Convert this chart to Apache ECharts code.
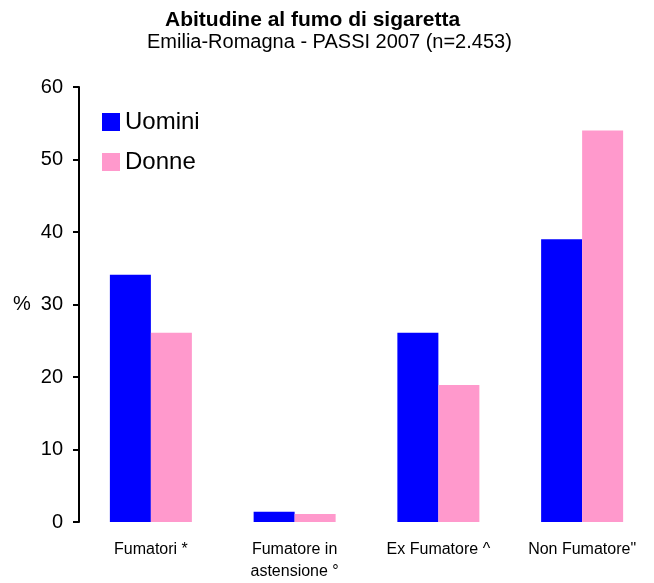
<!DOCTYPE html>
<html>
<head>
<meta charset="utf-8">
<script src="https://cdn.jsdelivr.net/npm/echarts@6/dist/echarts.min.js"></script>
<style>html,body{margin:0;padding:0;background:#fff}#c{width:654px;height:583px}</style>
</head>
<body>
<div id="c"></div>
<script>
var categories = ['Fumatori *', 'Fumatore in\nastensione °', 'Ex Fumatore ^', 'Non Fumatore"'];
var uomini = [34.1, 1.4, 26.1, 39.0];
var donne = [26.1, 1.1, 18.9, 54.0];
var yTicks = [0, 10, 20, 30, 40, 50, 60];

var font = 'Liberation Sans, Arial, sans-serif';
var chart = echarts.init(document.getElementById('c'));
chart.setOption({
  animation: false,
  backgroundColor: '#fff',
  title: [
    {text: 'Abitudine al fumo di sigaretta', left: 165, top: 10, padding: 0,
     textStyle: {fontFamily: font, fontSize: 21, fontWeight: 'bold', color: '#000'}},
    {text: 'Emilia-Romagna - PASSI 2007 (n=2.453)', left: 147, top: 32, padding: 0,
     textStyle: {fontFamily: font, fontSize: 20, fontWeight: 'normal', color: '#000'}}
  ],
  legend: {
    orient: 'vertical', left: 102, top: 110, padding: 0,
    itemWidth: 18, itemHeight: 18, itemGap: 16,
    icon: 'rect',
    textStyle: {fontFamily: font, fontSize: 24, color: '#000'},
    data: ['Uomini', 'Donne']
  },
  grid: {left: 79, top: 87, width: 577, bottom: 60, containLabel: false},
  graphic: [{type: 'text', left: 13, top: 294, style: {text: '%', font: '20px ' + font, fill: '#000'}}],
  xAxis: {
    type: 'category', data: categories,
    axisLine: {show: false}, axisTick: {show: false},
    axisLabel: {fontFamily: font, fontSize: 16, color: '#000', margin: 17, lineHeight: 22, interval: 0}
  },
  yAxis: {
    type: 'value', min: 0, max: 60, interval: 10,
    splitLine: {show: false},
    axisLine: {show: true, lineStyle: {color: '#000', width: 2}},
    axisTick: {show: true, length: 6, lineStyle: {color: '#000', width: 2}},
    axisLabel: {fontFamily: font, fontSize: 20, color: '#000', margin: 16,
      formatter: function (v) { return yTicks.indexOf(v) >= 0 ? String(v) : ''; }}
  },
  series: [
    {name: 'Uomini', type: 'bar', data: uomini, barWidth: 41, barGap: '0%', itemStyle: {color: '#0000FF'}},
    {name: 'Donne', type: 'bar', data: donne, barWidth: 41, barGap: '0%', itemStyle: {color: '#FF99CC'}}
  ]
});
</script>
</body>
</html>
